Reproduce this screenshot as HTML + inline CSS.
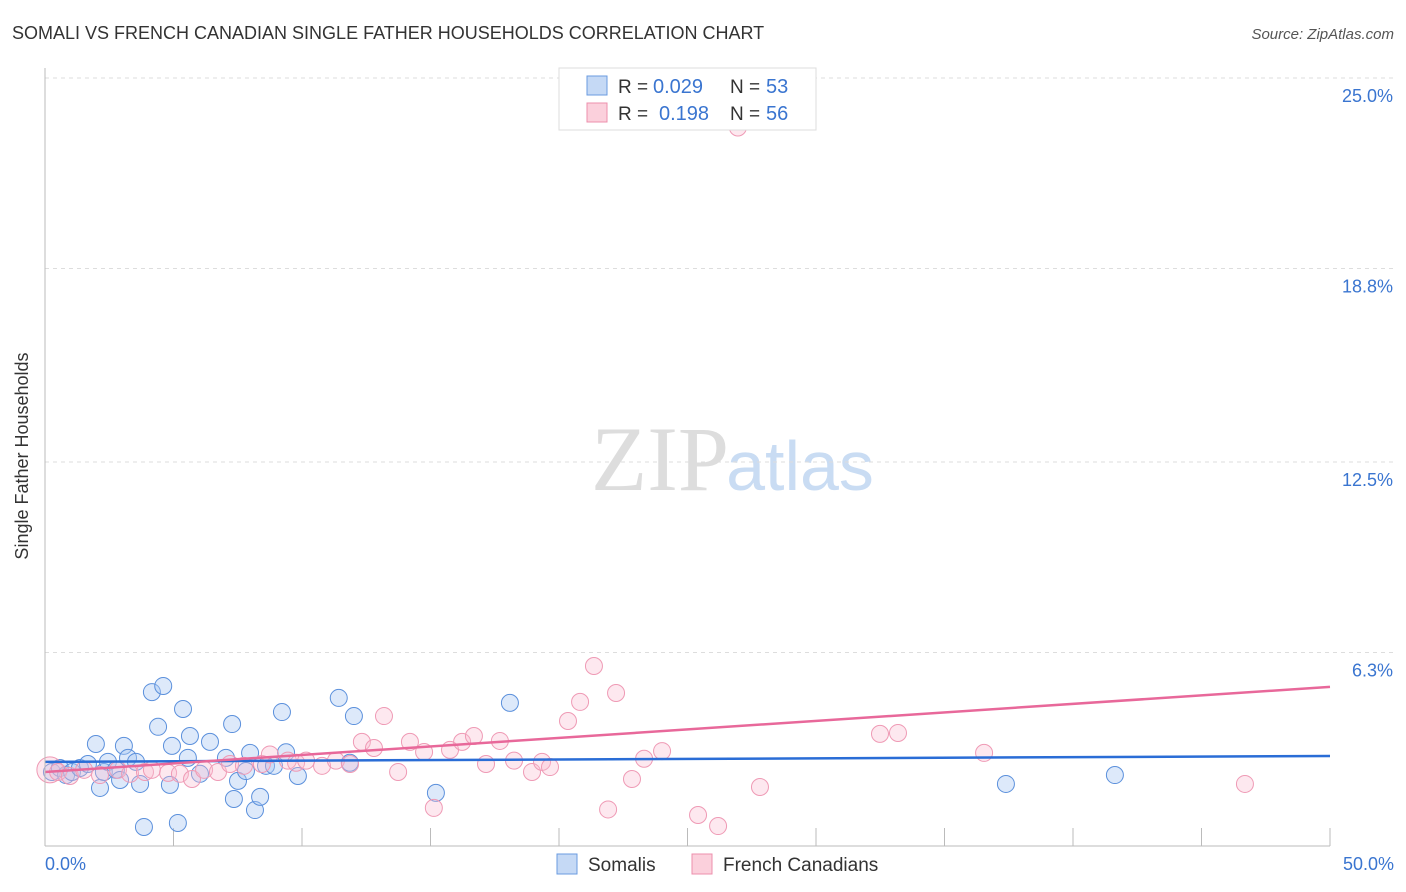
<!DOCTYPE html>
<html><head><meta charset="utf-8"><style>
body{margin:0;background:#fff;font-family:"Liberation Sans",sans-serif}
svg{display:block}
</style></head><body>
<svg width="1406" height="892" xmlns="http://www.w3.org/2000/svg">
<text x="12" y="39" font-size="18" fill="#333">SOMALI VS FRENCH CANADIAN SINGLE FATHER HOUSEHOLDS CORRELATION CHART</text>
<text x="1394" y="39" font-size="15" fill="#555" font-style="italic" text-anchor="end">Source: ZipAtlas.com</text>
<text x="660" y="490" font-size="92" fill="#ddd" font-family="Liberation Serif,serif" text-anchor="middle">ZIP</text>
<text x="800" y="490" font-size="70" fill="#c9dcf3" text-anchor="middle">atlas</text>
<g id="grid"></g><g id="pts"></g><g id="lines"></g>
<line x1="45" y1="68" x2="45" y2="846" stroke="#bbb"/>
<line x1="45" y1="846" x2="1330" y2="846" stroke="#bbb"/>
<text x="28" y="456" font-size="18" fill="#333" text-anchor="middle" transform="rotate(-90 28 456)">Single Father Households</text>
<text x="45" y="870" font-size="18" fill="#3a75d0">0.0%</text>
<text x="1394" y="870" font-size="18" fill="#3a75d0" text-anchor="end">50.0%</text>
<g>
<rect x="559" y="68" width="257" height="62" fill="#fff" stroke="#ddd"/>
<rect x="587" y="76" width="20" height="19" fill="#c5d9f5" stroke="#6a9be0"/>
<rect x="587" y="103" width="20" height="19" fill="#fbd0dc" stroke="#ec8fac"/>
<text x="618" y="93" font-size="19" fill="#333">R =</text>
<text x="653" y="93" font-size="20" fill="#3a75d0">0.029</text>
<text x="730" y="93" font-size="19" fill="#333">N =</text>
<text x="766" y="93" font-size="20" fill="#3a75d0">53</text>
<text x="618" y="120" font-size="19" fill="#333">R =</text>
<text x="659" y="120" font-size="20" fill="#3a75d0">0.198</text>
<text x="730" y="120" font-size="19" fill="#333">N =</text>
<text x="766" y="120" font-size="20" fill="#3a75d0">56</text>
</g>
<g>
<rect x="557" y="854" width="20" height="20" fill="#c5d9f5" stroke="#6a9be0"/>
<text x="588" y="871" font-size="19" fill="#333">Somalis</text>
<rect x="692" y="854" width="20" height="20" fill="#fbd0dc" stroke="#ec8fac"/>
<text x="723" y="871" font-size="19" fill="#333">French Canadians</text>
</g>
</svg>
<script>
const ticksY=[6.3,12.5,18.8,25.0];
const ticksX=[0,5,10,15,20,25,30,35,40,45,50];
const somaliX=[0.27,0.58,0.82,1.05,1.36,1.67,1.98,2.14,2.29,2.45,2.76,2.92,3.07,3.23,3.54,3.70,3.85,4.16,4.40,4.60,4.86,4.94,5.17,5.37,5.56,5.64,6.03,6.42,7.04,7.28,7.35,7.51,7.82,7.98,8.17,8.37,8.60,8.91,9.22,9.38,9.84,12.02,11.43,11.86,15.21,18.09,37.39,41.63];
const somaliY=[2.41,2.54,2.31,2.41,2.54,2.67,3.32,1.89,2.41,2.74,2.48,2.15,3.26,2.87,2.74,2.02,0.62,5.01,3.88,5.21,1.99,3.26,0.75,4.46,2.87,3.58,2.35,3.39,2.87,3.97,1.53,2.12,2.44,3.03,1.17,1.60,2.61,2.61,4.36,3.05,2.28,4.23,4.82,2.71,1.73,4.66,2.02,2.31];
const frenchX=[0.19,0.51,0.97,1.52,2.14,2.84,3.31,3.89,4.16,4.79,5.25,5.72,6.19,6.73,7.20,7.74,8.44,8.75,9.45,9.77,10.16,10.78,11.32,11.87,12.33,12.80,13.19,13.74,14.20,14.75,15.13,15.76,16.23,16.69,17.16,17.70,18.25,18.95,19.34,19.65,20.35,20.82,21.36,21.91,22.22,22.84,23.31,24.01,25.41,26.19,26.96,27.82,32.49,33.19,36.54,46.69];
const frenchY=[2.48,2.41,2.28,2.48,2.31,2.48,2.35,2.41,2.48,2.38,2.35,2.18,2.48,2.41,2.67,2.61,2.67,2.98,2.78,2.71,2.78,2.61,2.78,2.67,3.39,3.19,4.23,2.41,3.39,3.06,1.24,3.13,3.39,3.58,2.67,3.42,2.78,2.41,2.74,2.57,4.07,4.69,5.86,1.19,4.98,2.18,2.84,3.09,1.01,0.65,23.39,1.92,3.65,3.68,3.03,2.02];
const trendBlue=[2.74,2.93];
const trendPink=[2.41,5.18];
const NS="http://www.w3.org/2000/svg";
function xs(v){return 45+v/50*1285;}
function ys(v){return 846-v*30.72;}
function mk(tag,attrs,parent){const e=document.createElementNS(NS,tag);for(const k in attrs)e.setAttribute(k,attrs[k]);document.getElementById(parent).appendChild(e);return e;}
ticksY.forEach(t=>{
 const l=mk('line',{x1:45,x2:1394,y1:ys(t),y2:ys(t),stroke:'#ddd','stroke-dasharray':'4,4'},'grid');
 
 
 const tx=mk('text',{x:1393,y:ys(t)+24,'font-size':18,fill:'#3a75d0','text-anchor':'end'},'grid');
 tx.textContent=t.toFixed(1)+'%';
 
 
});
ticksX.slice(1).forEach(t=>{
 const l=mk('line',{x1:xs(t),x2:xs(t),y1:828,y2:846,stroke:'#bbb'},'grid');
 
 
});
somaliX.forEach((x,i)=>{
 const c=mk('circle',{cx:xs(x),cy:ys(somaliY[i]),r:8.5,fill:'rgba(170,200,242,0.4)',stroke:'#5b90dc','stroke-width':1},'pts');
 
 
});
frenchX.forEach((x,i)=>{
 const c=mk('circle',{cx:xs(x),cy:ys(frenchY[i]),r:i===0?13:8.5,fill:'rgba(248,190,208,0.35)',stroke:'#ef9ab5','stroke-width':1},'pts');
 
 
});
const b=mk('line',{x1:xs(0),x2:xs(50),y1:ys(trendBlue[0]),y2:ys(trendBlue[1]),stroke:'#2a6dd6','stroke-width':2.5},'lines');


const p=mk('line',{x1:xs(0),x2:xs(50),y1:ys(trendPink[0]),y2:ys(trendPink[1]),stroke:'#e8689a','stroke-width':2.5},'lines');


</script>
</body></html>
